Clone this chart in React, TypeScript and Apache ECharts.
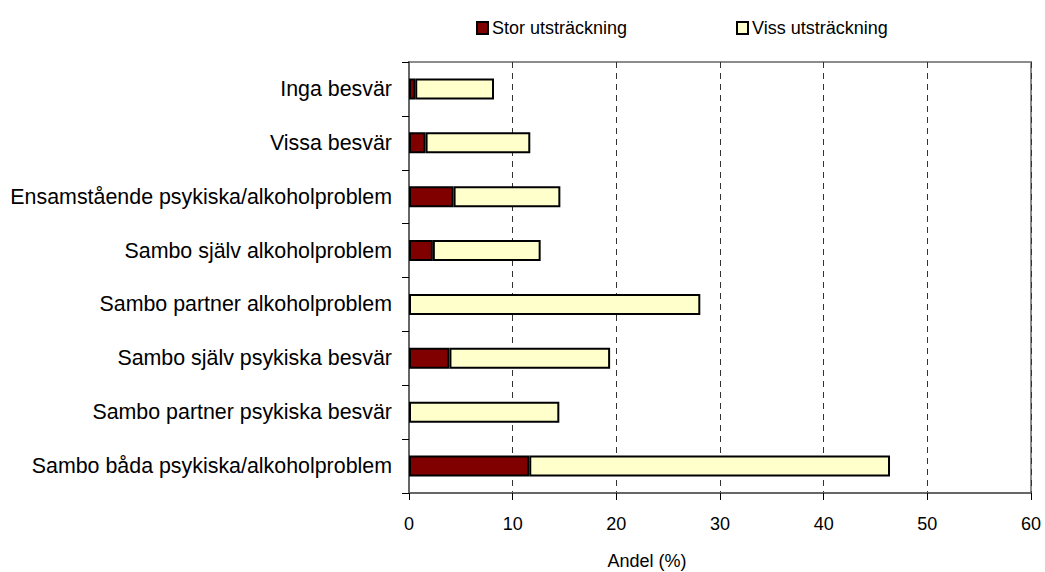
import React, { useEffect, useRef } from "react";
import * as echarts from "echarts";

const categories = [
  "Inga besvär",
  "Vissa besvär",
  "Ensamstående psykiska/alkoholproblem",
  "Sambo själv alkoholproblem",
  "Sambo partner alkoholproblem",
  "Sambo själv psykiska besvär",
  "Sambo partner psykiska besvär",
  "Sambo båda psykiska/alkoholproblem",
];
const storValues = [0.6, 1.6, 4.3, 2.3, 0, 3.9, 0, 11.6];
const vissValues = [7.6, 10.1, 10.3, 10.4, 28.1, 15.5, 14.5, 34.8];
const xTicks = [0, 10, 20, 30, 40, 50, 60];
const seriesNames = ["Stor utsträckning", "Viss utsträckning"];

const SANS = "'Liberation Sans', Arial, sans-serif";

export default function App() {
  const ref = useRef<HTMLDivElement>(null);
  useEffect(() => {
    if (!ref.current) return;
    const chart = echarts.init(ref.current, undefined, { renderer: "svg" });
    const legendBase = {
      top: 14,
      itemWidth: 11,
      itemHeight: 12,
      itemGap: 0,
      icon: "rect",
      textStyle: { fontFamily: SANS, fontSize: 18, color: "#000", padding: [0, 0, 0, -1] },
      selectedMode: false,
    };
    chart.setOption({
      animation: false,
      backgroundColor: "#ffffff",
      legend: [
        { ...legendBase, data: [seriesNames[0]], left: 471 },
        { ...legendBase, data: [seriesNames[1]], left: 731 },
      ],
      grid: {
        left: 409,
        top: 62,
        right: 14,
        bottom: 79,
        show: true,
        borderColor: "#8c8c8c",
        borderWidth: 2,
        containLabel: false,
      },
      xAxis: {
        type: "value",
        min: 0,
        max: 60,
        interval: 10,
        axisLine: { show: true, lineStyle: { color: "#666", width: 2 } },
        axisTick: { show: true, length: 7, inside: false, lineStyle: { color: "#000", width: 1 } },
        axisLabel: {
          fontFamily: SANS,
          fontSize: 18,
          color: "#000",
          margin: 22,
          formatter: (v: number) => (xTicks.includes(v) ? String(v) : ""),
        },
        splitLine: {
          show: true,
          lineStyle: { color: "#333", type: [6, 5], width: 1 },
        },
      },
      yAxis: {
        type: "category",
        data: categories,
        inverse: true,
        axisLine: { show: true, lineStyle: { color: "#666", width: 2 } },
        axisTick: { show: true, length: 7, lineStyle: { color: "#000", width: 1 } },
        axisLabel: { fontFamily: SANS, fontSize: 21.4, color: "#000", margin: 17 },
        splitLine: { show: false },
      },
      series: [
        {
          name: seriesNames[0],
          type: "bar",
          stack: "total",
          data: storValues.map((v) => (v === 0 ? "-" : v)),
          barWidth: 21,
          itemStyle: { color: "#800000", borderColor: "#000", borderWidth: 2 },
        },
        {
          name: seriesNames[1],
          type: "bar",
          stack: "total",
          data: vissValues,
          barWidth: 21,
          itemStyle: { color: "#ffffcc", borderColor: "#000", borderWidth: 2 },
        },
      ],
      graphic: [
        {
          type: "text",
          x: 647,
          y: 561,
          style: {
            text: "Andel (%)",
            font: `18px ${SANS}`,
            fill: "#000",
            align: "center",
            verticalAlign: "middle",
          },
        },
      ],
    });
    return () => chart.dispose();
  }, []);
  return (
    <div
      ref={ref}
      style={{ position: "fixed", left: 0, top: 0, width: 1045, height: 572 }}
    />
  );
}
